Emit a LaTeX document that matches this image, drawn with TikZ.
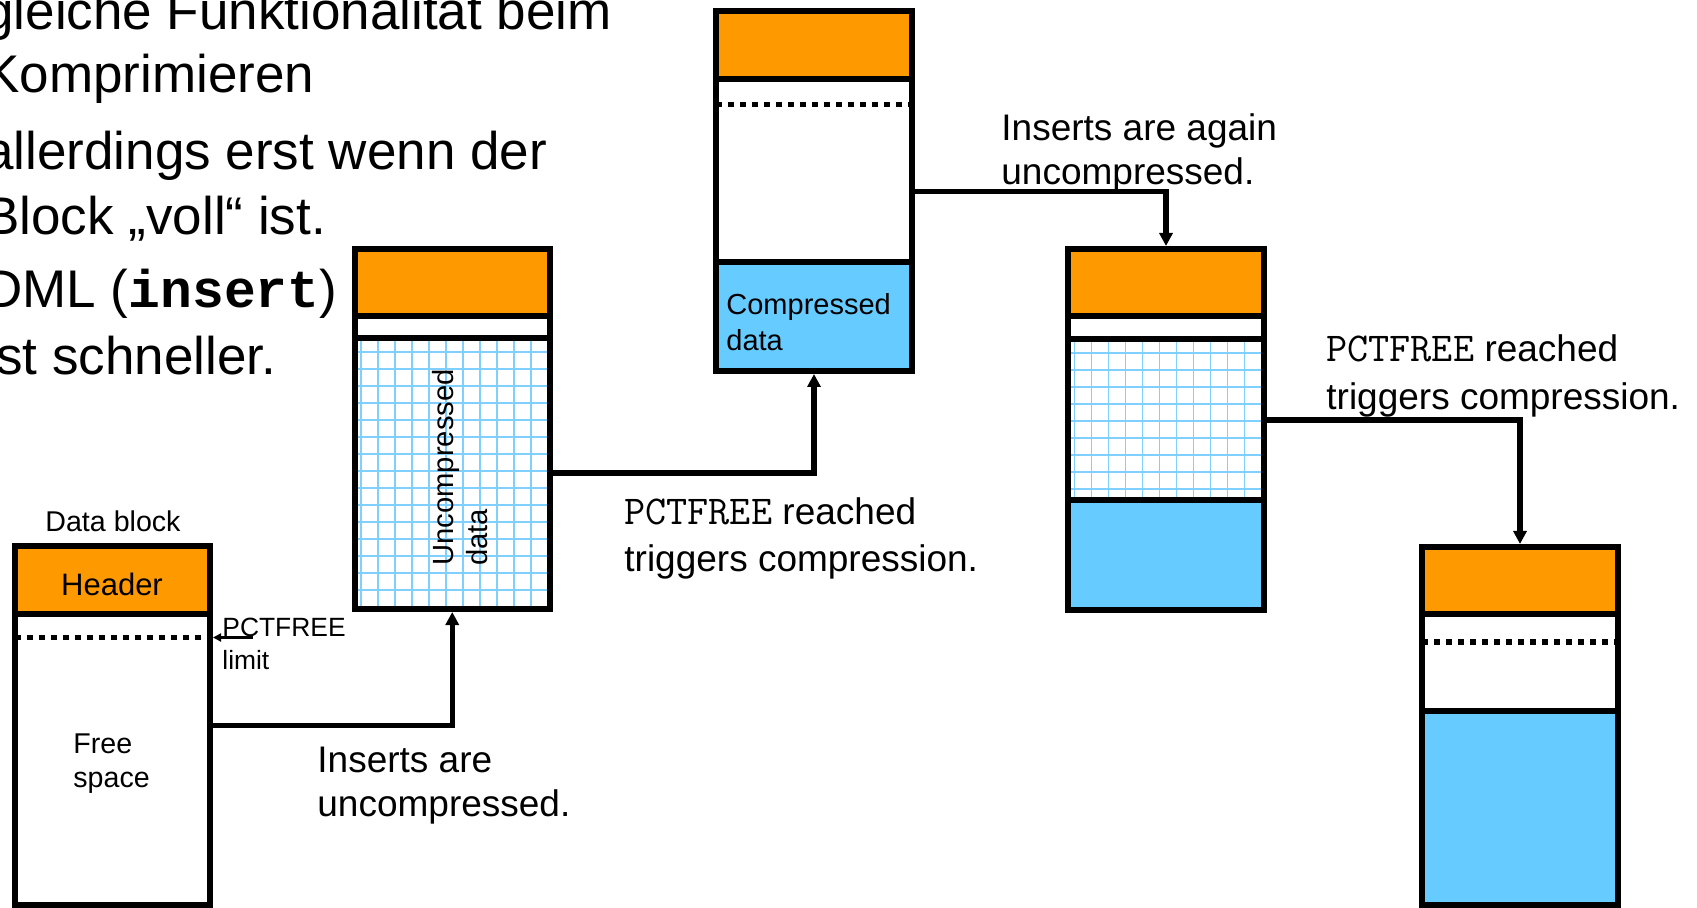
\documentclass[tikz,border=0pt]{standalone}
\usepackage{fontspec}
\setmainfont{Liberation Sans}
\newfontfamily\courbold{Liberation Mono}
\usetikzlibrary{arrows.meta,fit}
\definecolor{hdr}{HTML}{FF9900}
\definecolor{cmp}{HTML}{66CCFF}
\definecolor{grd}{HTML}{80D0FF}
\newcommand{\pctf}{{\fontsize{20.5}{21}\selectfont\ttfamily PCTFREE}}
\begin{document}
\begin{tikzpicture}[x=0.5pt,y=-0.5pt,
  blk/.style={draw, line width=3pt, inner sep=0pt},
  sep/.style={line width=3pt},
  dots/.style={line width=2.9pt, dash pattern=on 3pt off 3pt},
  gridline/.style={grd, line width=0.85pt},
  conn/.style={line width=2.6pt, -{Triangle[length=6.5pt,width=6.5pt]}},
  limarrow/.style={line width=1.1pt, -{Triangle[length=4pt,width=4pt]}},
  small/.style={font=\fontsize{14.3}{16}\selectfont, inner sep=0pt},
  lbl/.style={font=\fontsize{18.5}{21}\selectfont, inner sep=0pt, anchor=base west},
  big/.style={font=\fontsize{26.5}{32}\selectfont, inner sep=0pt, anchor=base west}]

\useasboundingbox (0,0) rectangle (1697,908);
\clip (0,0) rectangle (1697,908);

% ---------- slide text (cropped) ----------
\node[big] (t1) at (-16,30) {gleiche Funktionalität beim};
\node[big] (t2) at (-16,93) {Komprimieren};
\node[big] (t3) at (-16,169.5) {allerdings erst wenn der};
\node[big] (t4) at (-16,234.5) {Block „voll“ ist.};
\node[big] (t5) at (-16,307.5) {DML (\textbf{\courbold insert})};
\node[big] (t6) at (-16,374.5) {ist schneller.};

% ---------- block 1 ----------
\fill[hdr] (14.5,546.5) rectangle (210,614.5);
\draw[sep] (14.5,614.5) -- (210,614.5);
\draw[dots] (14.5,637.5) -- (210,637.5);
\node[blk, fit={(14.5,546.5) (210,905)}] (b1) {};
\node[small, anchor=base] (dbl) at (113,532) {Data block};
\node[small, font=\fontsize{15.5}{18}\selectfont] (hd1) at (112,584) {Header};
\node[small, anchor=base west] (fr1) at (73,753) {Free};
\node[small, anchor=base west] (fr2) at (73,787) {space};
\node[small, anchor=base west, font=\fontsize{13.2}{15}\selectfont] (pl1) at (222,636) {PCTFREE};
\node[small, anchor=base west, font=\fontsize{13.2}{15}\selectfont] (pl2) at (222,669) {limit};
\coordinate (lim) at (253,637.5);

% ---------- block 2 ----------
\fill[hdr] (354.5,249.5) rectangle (550,316);
\begin{scope}
  \clip (354.5,338) rectangle (550,609);
  \foreach \x in {361,378,...,548} \draw[gridline] (\x,338) -- (\x,609);
  \foreach \y in {352,369,...,590} \draw[gridline] (354.5,\y) -- (550,\y);
\end{scope}
\draw[sep] (354.5,316) -- (550,316);
\draw[sep] (354.5,338) -- (550,338);
\node[blk, fit={(354.5,249.5) (550,609)}] (b2) {};
\node[small, font=\fontsize{14.6}{16}\selectfont, rotate=90, anchor=base west] (un1) at (453,566) {Uncompressed};
\node[small, font=\fontsize{14.6}{16}\selectfont, rotate=90, anchor=base west] (un2) at (487,566) {data};

% ---------- block 3 ----------
\fill[hdr] (716,11.5) rectangle (912,79);
\fill[cmp] (716,262) rectangle (912,371);
\draw[sep] (716,79) -- (912,79);
\draw[sep] (716,262) -- (912,262);
\draw[dots] (716,104.5) -- (912,104.5);
\node[blk, fit={(716,11.5) (912,371)}] (b3) {};
\node[small, anchor=base west, font=\fontsize{14.5}{17}\selectfont] (cd1) at (726,315) {Compressed};
\node[small, anchor=base west, font=\fontsize{14.5}{17}\selectfont] (cd2) at (726,351) {data};

% ---------- block 4 ----------
\fill[hdr] (1068,249) rectangle (1264,316);
\fill[cmp] (1068,500) rectangle (1264,610);
\begin{scope}
  \clip (1068,339) rectangle (1264,500);
  \foreach \x in {1074.5,1091.5,...,1264} \draw[gridline] (\x,339) -- (\x,500);
  \foreach \y in {353,370,...,490} \draw[gridline] (1068,\y) -- (1264,\y);
\end{scope}
\draw[sep] (1068,316) -- (1264,316);
\draw[sep] (1068,339) -- (1264,339);
\draw[sep] (1068,500) -- (1264,500);
\node[blk, fit={(1068,249) (1264,610)}] (b4) {};

% ---------- block 5 ----------
\fill[hdr] (1422,547) rectangle (1618,614);
\fill[cmp] (1422,711) rectangle (1618,905);
\draw[sep] (1422,614) -- (1618,614);
\draw[sep] (1422,711) -- (1618,711);
\draw[dots] (1422,642) -- (1618,642);
\node[blk, fit={(1422,547) (1618,905)}] (b5) {};

% ---------- labels ----------
\node[lbl] (ins1) at (317,772) {Inserts are};
\node[lbl] (ins2) at (317,816) {uncompressed.};
\node[lbl] (pr1) at (624,525) {\pctf{} reached};
\node[lbl] (pr2) at (624,572) {triggers compression.};
\node[lbl] (ag1) at (1001,141) {Inserts are again};
\node[lbl] (ag2) at (1001,185) {uncompressed.};
\node[lbl] (rr1) at (1326,362) {\pctf{} reached};
\node[lbl] (rr2) at (1326,410) {triggers compression.};

% ---------- connectors ----------
\draw[limarrow] (lim) -- (b1.east |- lim);
\draw[conn] (b1.east) -| (b2.south);
\draw[conn] ([yshift=-21.9pt]b2.east) -| (b3.south);
\draw[conn] (b3.east) -| (b4.north);
\draw[conn] ([yshift=4.75pt]b4.east) -| (b5.north);
\end{tikzpicture}
\end{document}
